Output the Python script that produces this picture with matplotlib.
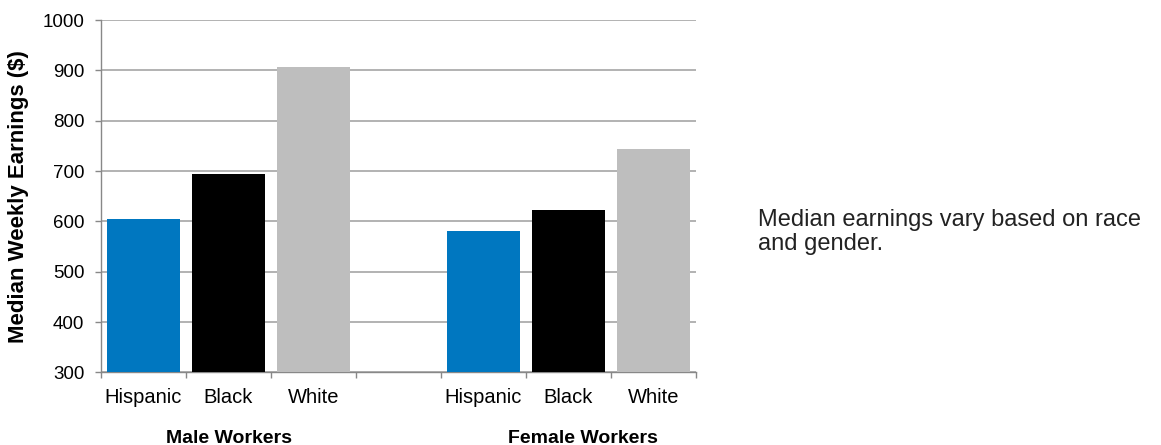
import matplotlib.pyplot as plt
from matplotlib.transforms import blended_transform_factory

races = ["Hispanic", "Black", "White"]
male_earnings = [605, 694, 906]
female_earnings = [580, 623, 744]
groups = ["Male Workers", "Female Workers"]
bar_colors = ["#0077c0", "#000000", "#bebebe"]

plt.rcParams['font.family'] = ['Liberation Sans', 'DejaVu Sans']

fig = plt.figure(figsize=(11.61, 4.45), dpi=100)
ax = fig.add_axes([0.087, 0.163, 0.5125, 0.792])

male_x = [0, 1, 2]
female_x = [4, 5, 6]
ax.bar(male_x, male_earnings, width=0.87, color=bar_colors, zorder=3)
ax.bar(female_x, female_earnings, width=0.87, color=bar_colors, zorder=3)

ax.set_xlim(-0.5, 6.5)
ax.set_ylim(300, 1000)
ax.set_yticks(range(300, 1001, 100))
ax.yaxis.grid(True, color='#a6a6a6', linewidth=1.2, zorder=0)
ax.set_axisbelow(True)

ax.set_xticks(male_x + female_x)
ax.set_xticklabels(races + races, fontsize=14.5)
ax.set_xticks([x - 0.5 for x in range(8)], minor=True)
ax.tick_params(axis='x', which='major', length=0, pad=11)
ax.tick_params(axis='x', which='minor', length=4, color='#888888', width=1)
ax.tick_params(axis='y', length=4, color='#888888', width=1, labelsize=13.5, pad=8)

for s in ['top', 'right']:
    ax.spines[s].set_visible(False)
for s in ['left', 'bottom']:
    ax.spines[s].set_color('#888888')
    ax.spines[s].set_linewidth(1)

ax.set_ylabel("Median Weekly Earnings ($)", fontsize=16, fontweight='bold', labelpad=10)

trans = blended_transform_factory(ax.transData, ax.transAxes)
ax.text(1.0, -0.186, groups[0], transform=trans, ha='center', va='center',
        fontsize=14, fontweight='bold')
ax.text(5.17, -0.186, groups[1], transform=trans, ha='center', va='center',
        fontsize=14, fontweight='bold')

fig.text(0.653, 0.479, "Median earnings vary based on race\nand gender.",
         ha='left', va='center', fontsize=17, color='#222222', linespacing=1.12)

fig.savefig("out.png", dpi=100)
